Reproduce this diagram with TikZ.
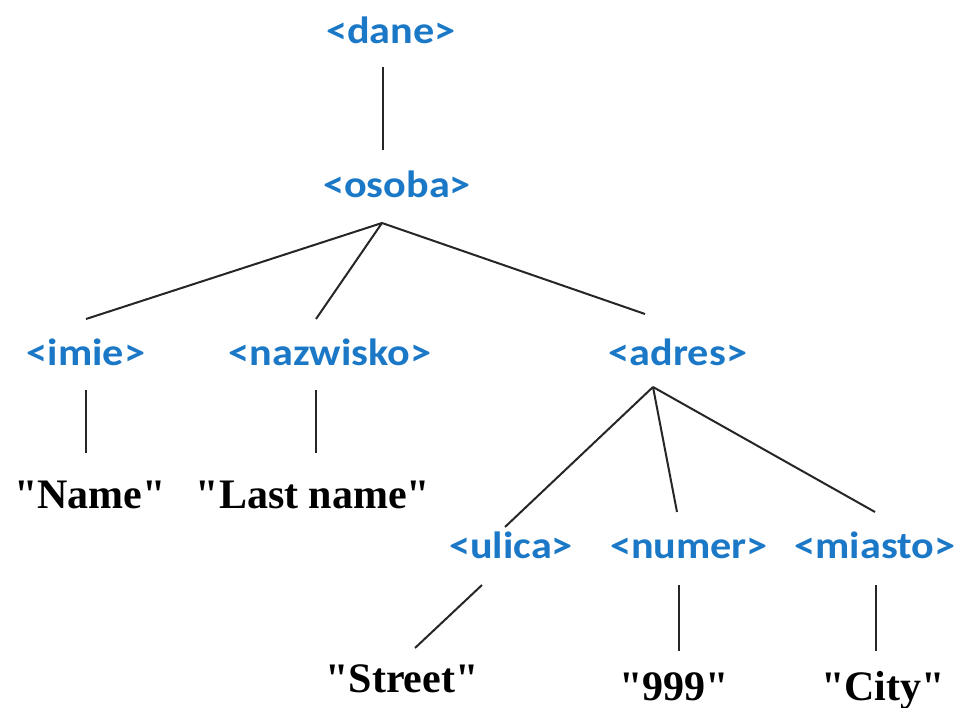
\documentclass[tikz,border=0pt]{standalone}
\usepackage{fontspec}
\usepackage{graphicx}
\setmainfont{Liberation Serif}[Ligatures=TeXOff]
\newfontfamily\tagfont{Carlito}
\definecolor{tagblue}{RGB}{26,120,198}
\newcommand{\tg}[1]{\scalebox{1.11}[1]{#1}}
\tikzset{
  tagnode/.style={font=\tagfont\bfseries\fontsize{38}{40}\selectfont, text=tagblue, inner sep=0pt, anchor=base},
  valnode/.style={font=\bfseries\fontsize{42}{46}\selectfont, text=black, inner sep=0pt, anchor=base},
  edge/.style={draw=black!85, line width=2pt}
}
\begin{document}
\begin{tikzpicture}[x=1pt,y=-1pt]
\useasboundingbox (0,0) rectangle (961,708);
% tag nodes
\node[tagnode] (dane) at (391,44) {\tg{<dane>}};
\node[tagnode] (osoba) at (397,198) {\tg{<osoba>}};
\node[tagnode] (imie) at (86,366) {\tg{<imie>}};
\node[tagnode] (nazwisko) at (330,366) {\tg{<nazwisko>}};
\node[tagnode] (adres) at (678,366) {\tg{<adres>}};
\node[tagnode] (ulica) at (511,558) {\tg{<ulica>}};
\node[tagnode] (numer) at (689,558) {\tg{<numer>}};
\node[tagnode] (miasto) at (875,558) {\tg{<miasto>}};
% value nodes
\node[valnode] (name) at (90,508) {"Name"};
\node[valnode] (lastname) at (313,508) {"Last name"};
\node[valnode] (street) at (402,692) {"Street"};
\node[valnode] (num) at (674,700) {"999"};
\node[valnode] (city) at (883,700) {"City"};
% connector points
\coordinate (daneB) at (383,67);
\coordinate (osobaT) at (383,150);
\coordinate (osobaB) at (382,223);
\coordinate (imieT) at (86,319);
\coordinate (nazwiskoT) at (316,319);
\coordinate (adresT) at (645,314);
\coordinate (imieB) at (86,390);
\coordinate (nameT) at (86,453);
\coordinate (nazwiskoB) at (316,390);
\coordinate (lastnameT) at (316,453);
\coordinate (adresB) at (653,387);
\coordinate (ulicaT) at (505,527);
\coordinate (numerT) at (677,512);
\coordinate (miastoT) at (875,512);
\coordinate (ulicaB) at (482,585);
\coordinate (streetT) at (415,648);
\coordinate (numerB) at (679,585);
\coordinate (numT) at (679,651);
\coordinate (miastoB) at (876,585);
\coordinate (cityT) at (876,651);
% connectors
\draw[edge] (daneB) -- (osobaT);
\draw[edge] (osobaB) -- (imieT);
\draw[edge] (osobaB) -- (nazwiskoT);
\draw[edge] (osobaB) -- (adresT);
\draw[edge] (imieB) -- (nameT);
\draw[edge] (nazwiskoB) -- (lastnameT);
\draw[edge] (adresB) -- (ulicaT);
\draw[edge] (adresB) -- (numerT);
\draw[edge] (adresB) -- (miastoT);
\draw[edge] (ulicaB) -- (streetT);
\draw[edge] (numerB) -- (numT);
\draw[edge] (miastoB) -- (cityT);
\end{tikzpicture}
\end{document}
